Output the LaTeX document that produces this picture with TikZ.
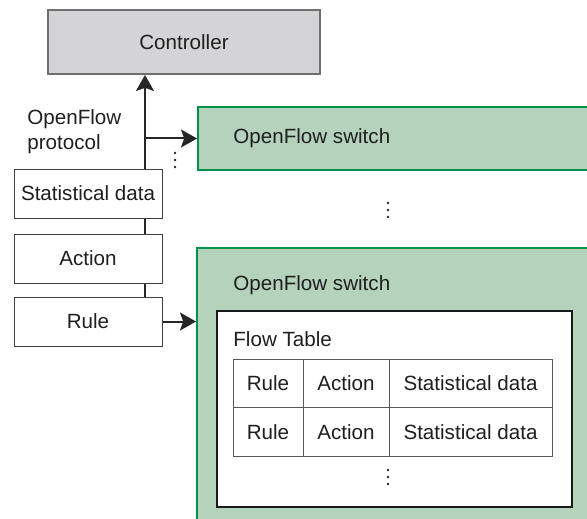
\documentclass[tikz,border=0pt]{standalone}
\usepackage{fontspec}
\setmainfont{Liberation Sans}
\usetikzlibrary{arrows.meta}
\usetikzlibrary{positioning}

\definecolor{ctrlgray}{HTML}{D4D4D6}
\definecolor{ctrledge}{HTML}{6F6F6F}
\definecolor{swfill}{HTML}{B4D2BC}
\definecolor{swedge}{HTML}{00914B}

\begin{document}
\begin{tikzpicture}[
    x=0.5pt,y=-0.5pt,
    every node/.style={font=\fontsize{10.3}{12.6}\selectfont,text=black!88},
    box/.style={
        draw=black!75,line width=0.5pt,fill=white,inner sep=0pt,
        minimum width=74pt,minimum height=24.5pt
    },
    switch/.style={draw=swedge,line width=1pt,fill=swfill,inner sep=0pt},
    cell/.style={
        draw=black!65,line width=0.5pt,inner sep=0pt,outer sep=0pt,
        minimum height=24.3pt
    },
    wire/.style={draw=black!85,line width=1pt},
    arr/.style={wire,-{Stealth[length=8pt,width=9pt,inset=1.6pt]}}
]
    \useasboundingbox (0,0) rectangle (587,518);

    % controller and the message parts
    \node (ctrl) [draw=ctrledge,line width=1pt,fill=ctrlgray,
        minimum width=136pt,minimum height=32pt] at (184,42) {Controller};
    \node (stat) [box] at (88,193.5) {Statistical data};
    \node (act) [box] at (88,258.5) {Action};
    \node (rule) [box] at (88,321.5) {Rule};
    \node (proto) [anchor=west,align=left,inner sep=0pt] at (27,132)
        {OpenFlow\\protocol};

    % switches
    \node (sw1) [switch,minimum width=201pt,minimum height=31.5pt]
        at (399,138.5) {};
    \node (sw1label) [anchor=west,inner sep=0pt] at (233,138) {OpenFlow switch};
    \node (sw2) [switch,minimum width=201.5pt,minimum height=141pt]
        at (398.5,389) {};
    \node (sw2label) [anchor=west,inner sep=0pt] at (233,285) {OpenFlow switch};

    % flow table
    \node (ftable) [draw=black!90,line width=1.4pt,fill=white,
        minimum width=177.5pt,minimum height=98pt] at (394.5,409) {};
    \node (ftlabel) [anchor=west,inner sep=0pt] at (233,339) {Flow Table};
    \node (rule1) [cell,minimum width=35pt] at (268,383.5) {Rule};
    \node (act1) [cell,minimum width=43pt,right=0pt of rule1] {Action};
    \node (stat1) [cell,minimum width=81.5pt,right=0pt of act1]
        {Statistical data};
    \node (rule2) [cell,minimum width=35pt,below=0pt of rule1] {Rule};
    \node (act2) [cell,minimum width=43pt,right=0pt of rule2] {Action};
    \node (stat2) [cell,minimum width=81.5pt,right=0pt of act2]
        {Statistical data};

    % vertical ellipses
    \foreach \x/\y in {175/160,388/210,388/477}
        \foreach \k in {-7,0,7}
            \fill [black!85] (\x,{\y+\k}) circle (0.65pt);

    % protocol bus
    \coordinate (bus) at (145,0);
    \draw [arr] (stat.north -| bus) -- (ctrl.south -| bus);
    \draw [arr] (sw1.west -| bus) -- (sw1.west);
    \draw [wire] (stat.south -| bus) -- (act.north -| bus);
    \draw [wire] (act.south -| bus) -- (rule.north -| bus);
    \draw [arr] (rule.east) -- (rule -| sw2.west);
\end{tikzpicture}
\end{document}
